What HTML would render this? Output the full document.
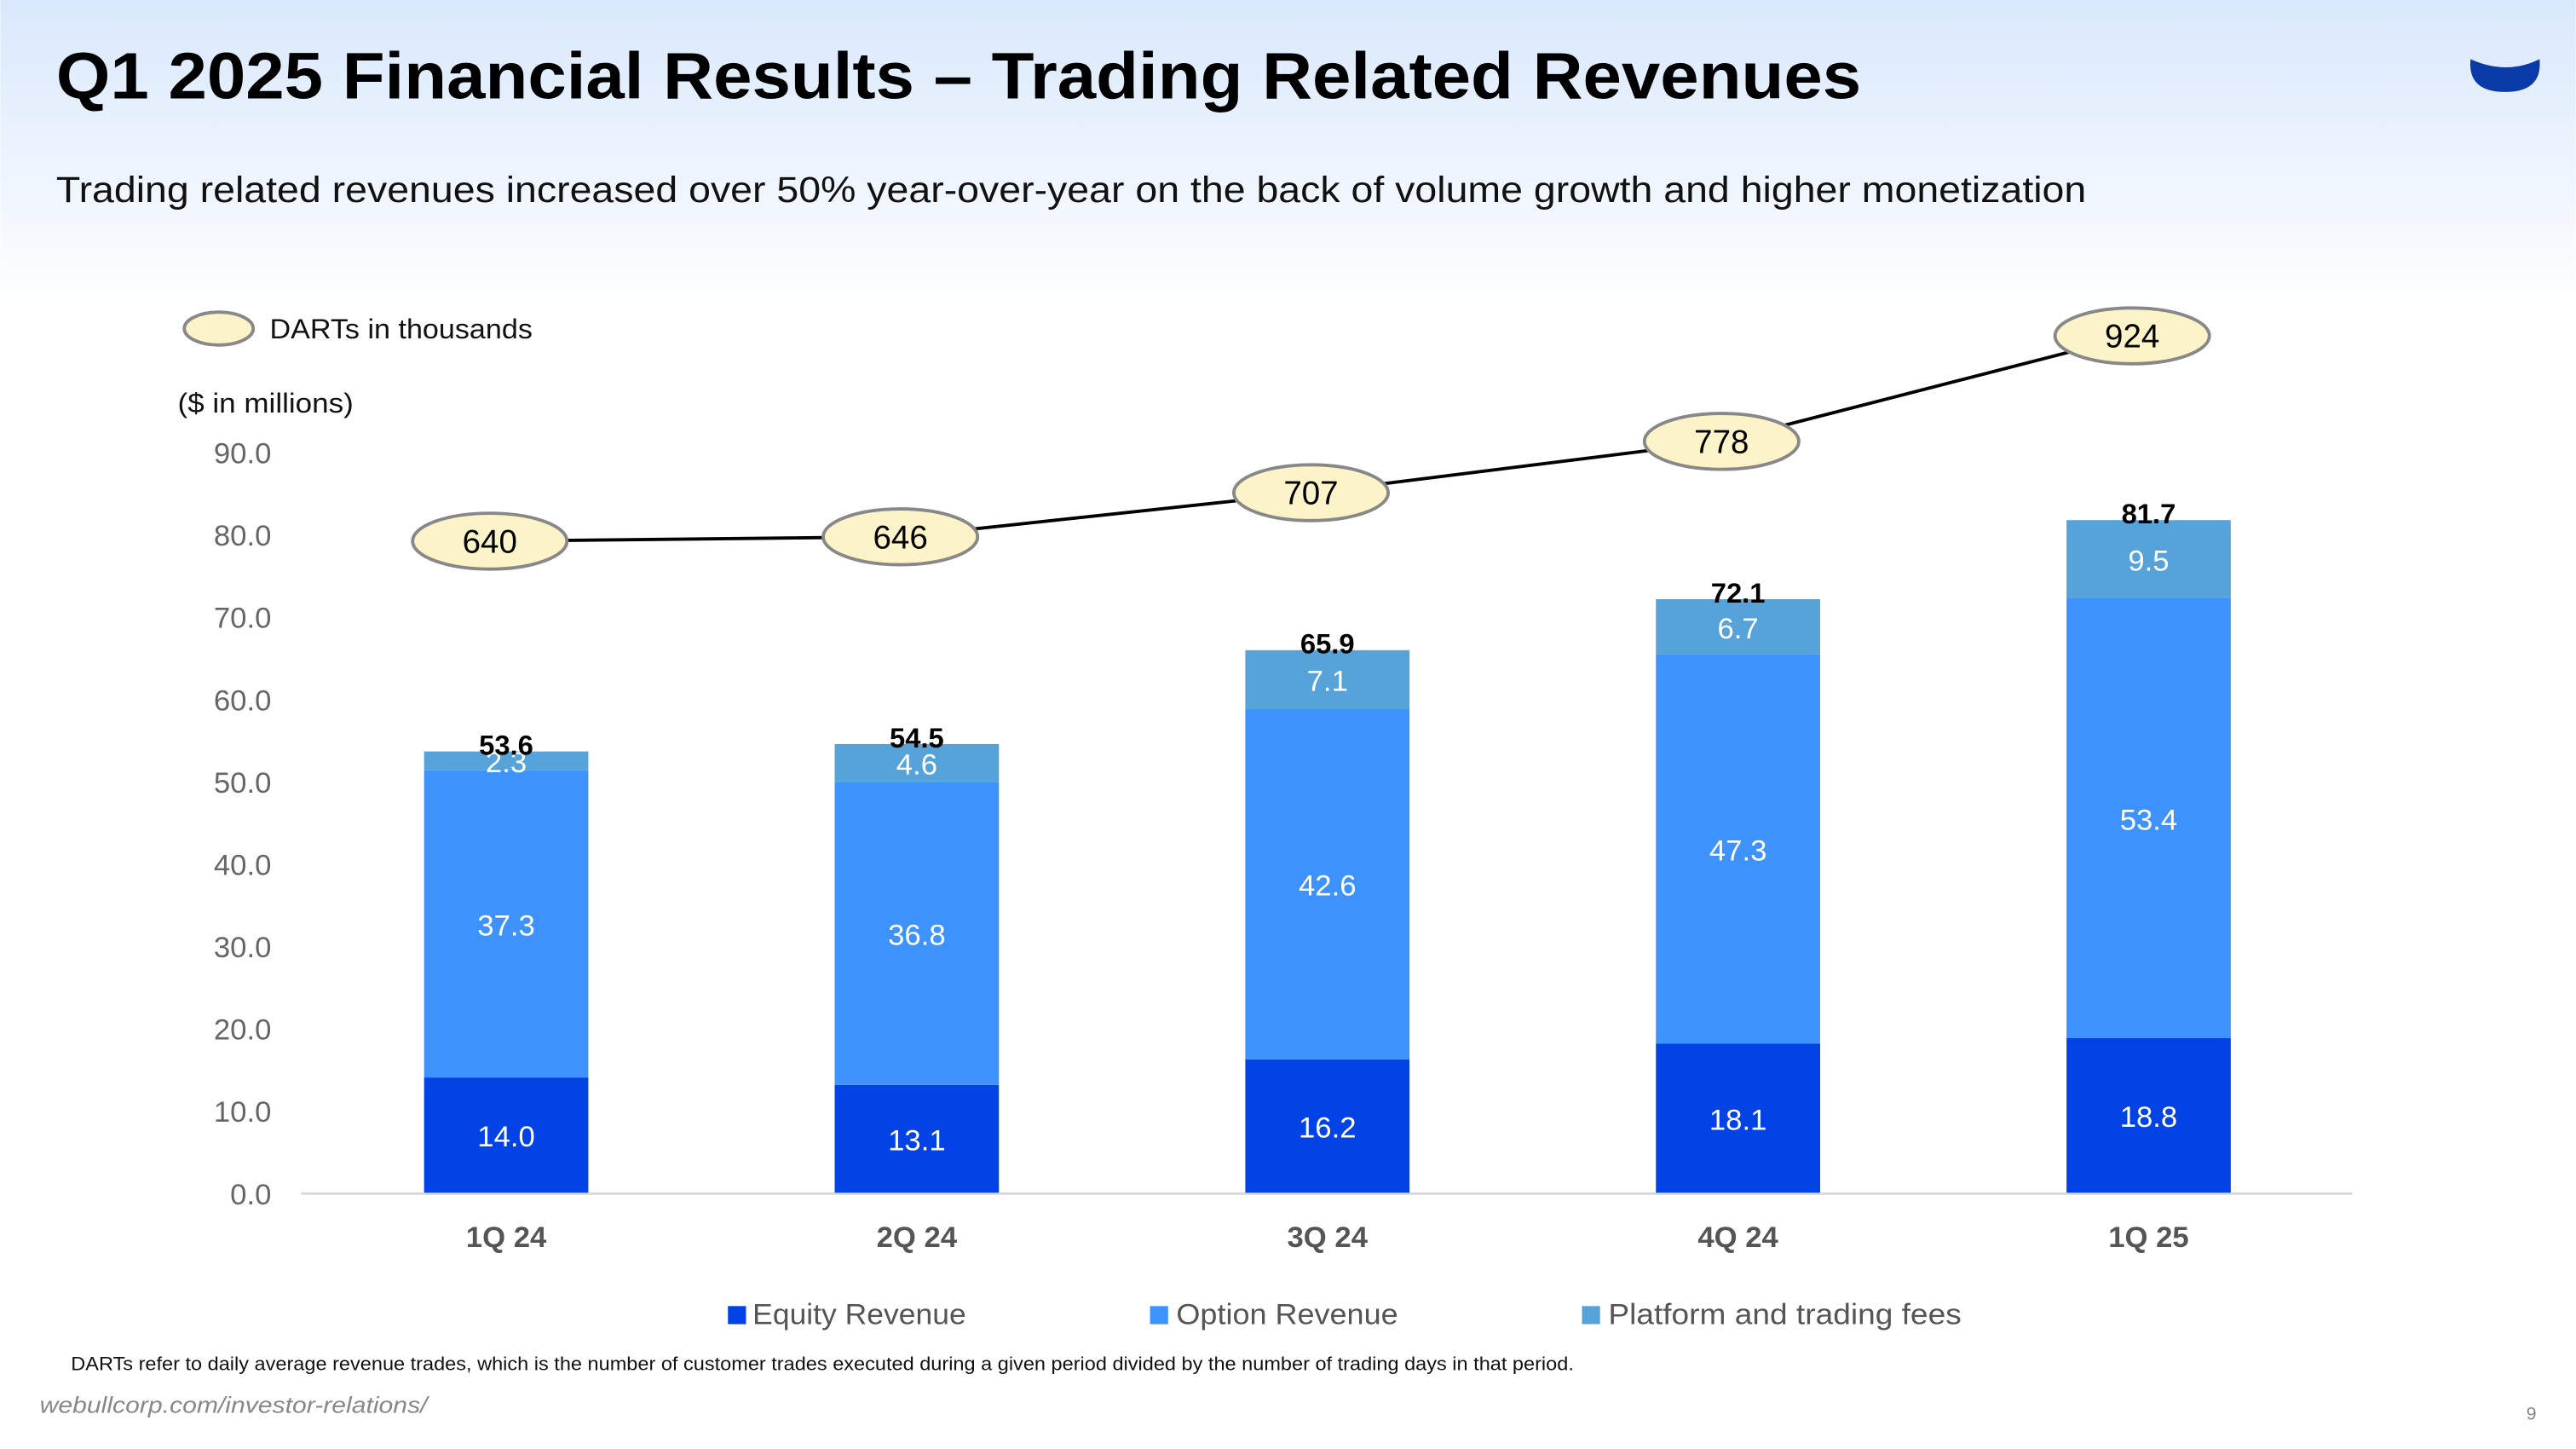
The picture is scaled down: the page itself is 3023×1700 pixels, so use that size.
<!DOCTYPE html>
<html><head><meta charset="utf-8"><style>
html,body{margin:0;padding:0;background:#fff}
svg{display:block;font-family:"Liberation Sans",sans-serif}
</style></head><body>
<svg id="c" width="3023" height="1700" viewBox="0 0 1568 882">
<defs><linearGradient id="bg" x1="0" y1="0" x2="0" y2="1">
<stop offset="0" stop-color="#d9e8fc"/><stop offset="1" stop-color="#ffffff"/></linearGradient></defs>
<rect width="1568" height="190" fill="url(#bg)"/>
<text x="34" y="60" font-size="40" font-weight="bold" fill="#000" textLength="1099" lengthAdjust="spacingAndGlyphs">Q1 2025 Financial Results – Trading Related Revenues</text>
<path d="M1504 36 Q1526 46 1546 36 Q1548 56 1525 56 Q1502 56 1504 36 Z" fill="#0a3aa8"/>
<text x="34" y="123" font-size="22" fill="#111" textLength="1236" lengthAdjust="spacingAndGlyphs">Trading related revenues increased over 50% year-over-year on the back of volume growth and higher monetization</text>
<ellipse cx="133" cy="200" rx="21" ry="10" fill="#fdf3c8" stroke="#888" stroke-width="2"/>
<text x="164" y="206" font-size="17" fill="#111" textLength="160" lengthAdjust="spacingAndGlyphs">DARTs in thousands</text>
<text x="108" y="251" font-size="17" fill="#111" textLength="107" lengthAdjust="spacingAndGlyphs">($ in millions)</text>
<g id="axis"></g><g id="bars"></g><g id="line"></g>
<g>
<rect x="443" y="795" width="11" height="11" fill="#0343e6"/>
<text x="458" y="806" font-size="18" fill="#555" textLength="130" lengthAdjust="spacingAndGlyphs">Equity Revenue</text>
<rect x="700" y="795" width="11" height="11" fill="#3d93fb"/>
<text x="716" y="806" font-size="18" fill="#555" textLength="135" lengthAdjust="spacingAndGlyphs">Option Revenue</text>
<rect x="963" y="795" width="11" height="11" fill="#55a3d9"/>
<text x="979" y="806" font-size="18" fill="#555" textLength="215" lengthAdjust="spacingAndGlyphs">Platform and trading fees</text>
</g>
<text x="43" y="834" font-size="11.5" fill="#111" textLength="915" lengthAdjust="spacingAndGlyphs">DARTs refer to daily average revenue trades, which is the number of customer trades executed during a given period divided by the number of trading days in that period.</text>
<text x="24" y="860" font-size="14" font-style="italic" fill="#888" textLength="236" lengthAdjust="spacingAndGlyphs">webullcorp.com/investor-relations/</text>
<text x="1538" y="864" font-size="11" fill="#888">9</text>
</svg>
<script>
const categories=["1Q 24","2Q 24","3Q 24","4Q 24","1Q 25"];
const equity=[14.0,13.1,16.2,18.1,18.8];
const option=[37.3,36.8,42.6,47.3,53.4];
const platform=[2.3,4.6,7.1,6.7,9.5];
const totals=[53.6,54.5,65.9,72.1,81.7];
const darts=[640,646,707,778,924];
const yTicks=[0,10,20,30,40,50,60,70,80,90];
const NS="http://www.w3.org/2000/svg";
function y(v){return 726-v*(451/90);}
function x(i){return 308+i*250;}
function yd(d){return 611-d*0.44;}
function el(t,a,p,txt){const e=document.createElementNS(NS,t);for(const k in a)e.setAttribute(k,a[k]);if(txt!==undefined)e.textContent=txt;p.appendChild(e);return e;}
const ax=document.getElementById('axis'),bg=document.getElementById('bars'),lg=document.getElementById('line');
let e=el('line',{x1:183,x2:1432,y1:726.5,y2:726.5,stroke:'#d9d9d9','stroke-width':1.5},ax);


yTicks.forEach(t=>{const e=el('text',{x:165,y:y(t)+7,'font-size':18,fill:'#666','text-anchor':'end'},ax,t.toFixed(1));

});
categories.forEach((c,i)=>{
 const cx=x(i),w=100;
 const segs=[[0,equity[i],'#0343e6'],[equity[i],equity[i]+option[i],'#3d93fb'],[equity[i]+option[i],equity[i]+option[i]+platform[i],'#55a3d9']];
 const names=['equity','option','platform'],vals=[equity[i],option[i],platform[i]];
 segs.forEach((s,k)=>{
  const r=el('rect',{x:cx-w/2,y:y(s[1]),width:w,height:y(s[0])-y(s[1]),fill:s[2]},bg);
  
  
  const ly=(y(s[0])+y(s[1]))/2+7;
  const t=el('text',{x:cx,y:ly,'font-size':18,fill:'#fff','text-anchor':'middle'},bg,vals[k].toFixed(1));
  
  
 });
 const tt=el('text',{x:cx,y:y(totals[i])+2,'font-size':17,'font-weight':'bold',fill:'#000','text-anchor':'middle'},bg,totals[i].toFixed(1));
 
 
 const cl=el('text',{x:cx,y:759,'font-size':18,'font-weight':'bold',fill:'#555','text-anchor':'middle'},bg,c);
 
 
});
const pl=el('polyline',{points:darts.map((d,i)=>(x(i)-10)+','+yd(d)).join(' '),fill:'none',stroke:'#000','stroke-width':2},lg);


darts.forEach((d,i)=>{
 const g=el('ellipse',{cx:x(i)-10,cy:yd(d),rx:47,ry:17,fill:'#fdf3c8',stroke:'#888','stroke-width':2},lg);
 
 
 const t=el('text',{x:x(i)-10,y:yd(d)+7,'font-size':20,fill:'#000','text-anchor':'middle'},lg,d);
 
 
});
</script>
</body></html>
